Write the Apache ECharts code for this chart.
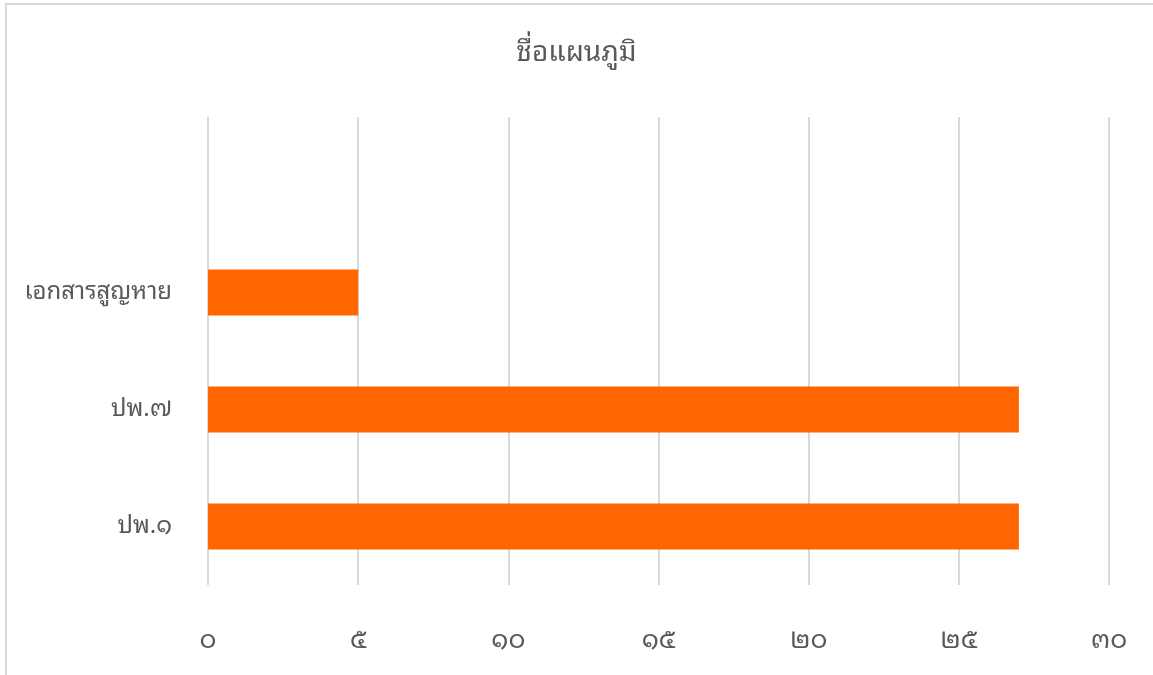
<!DOCTYPE html>
<html>
<head>
<meta charset="utf-8">
<script src="https://cdn.jsdelivr.net/npm/echarts@6/dist/echarts.min.js"></script>
<style>
html,body{margin:0;padding:0;background:#fff;overflow:hidden;}
#frame{position:absolute;left:5px;top:3px;width:1200px;height:720px;border:2px solid #d9d9d9;}
#main{position:absolute;left:0;top:0;width:1153px;height:675px;}
</style>
</head>
<body>
<div id="frame"></div>
<div id="main"></div>
<script>
var titleText = 'ชื่อแผนภูมิ';
var categories = ['ปพ.๑', 'ปพ.๗', 'เอกสารสูญหาย', ''];
var values = [27, 27, 5, null];
var thaiDigits = ['๐','๑','๒','๓','๔','๕','๖','๗','๘','๙'];

function toThai(n){
    return String(n).replace(/[0-9]/g, function(d){ return thaiDigits[+d]; });
}

var font = '"Noto Sans Thai Looped","Noto Sans Thai","Noto Sans","Leelawadee UI",Tahoma,sans-serif';
var myChart = echarts.init(document.getElementById('main'));
var option = {
    animation: false,
    title: {
        text: titleText,
        left: 'center',
        top: 34,
        textStyle: {
            fontFamily: font,
            fontSize: 28,
            fontWeight: 'normal',
            color: '#595959'
        }
    },
    grid: {
        left: 208,
        right: 44,
        top: 117,
        bottom: 90,
        containLabel: false
    },
    xAxis: {
        type: 'value',
        min: 0,
        max: 30,
        interval: 5,
        axisLine: {show: false},
        axisTick: {show: false},
        splitLine: {
            show: true,
            lineStyle: {color: '#d9d9d9', width: 2}
        },
        axisLabel: {
            margin: 43,
            fontFamily: font,
            fontSize: 26,
            color: '#595959',
            formatter: function(v){ return toThai(v); }
        }
    },
    yAxis: {
        type: 'category',
        data: categories,
        axisLine: {show: false},
        axisTick: {show: false},
        splitLine: {show: false},
        axisLabel: {
            margin: 36,
            fontFamily: font,
            fontSize: 24,
            color: '#595959'
        }
    },
    series: [{
        type: 'bar',
        data: values,
        barWidth: 46,
        itemStyle: {color: '#ff6600'}
    }]
};
myChart.setOption(option);
</script>
</body>
</html>
